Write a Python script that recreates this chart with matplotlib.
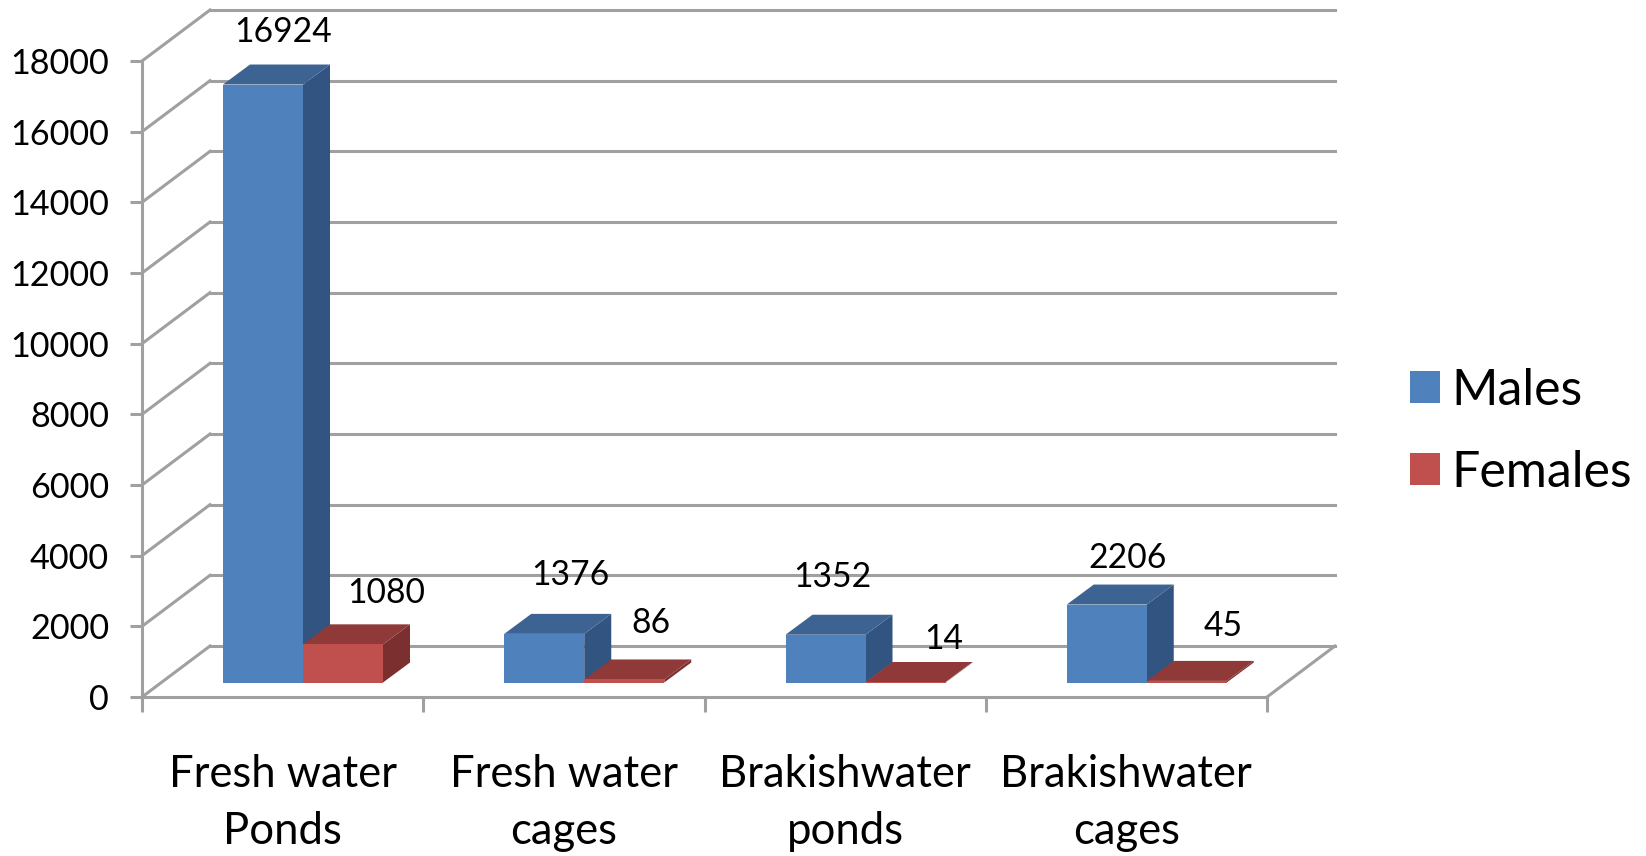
import matplotlib
matplotlib.use("Agg")
import matplotlib.pyplot as plt
from matplotlib.patches import Polygon, Patch

plt.rcParams['font.family'] = ['Lato', 'DejaVu Sans']

# data
categories = ['Fresh water\nPonds', 'Fresh water\ncages', 'Brakishwater\nponds', 'Brakishwater\ncages']
males = [16924, 1376, 1352, 2206]
females = [1080, 86, 14, 45]
y_ticks = [0, 2000, 4000, 6000, 8000, 10000, 12000, 14000, 16000, 18000]

# label offsets from the bar's top centre, in pixels (moved by hand in the original)
male_offs = [(20, 53), (26, 59), (7, 58), (21, 47)]
female_offs = [(43, 51), (27, 56), (38, 43), (36, 55)]

W, H = 1646, 856
PX = 72.0 / 100
GREY = '#a0a0a0'
LW = 2.2

fig = plt.figure(figsize=(W / 100, H / 100), dpi=100, facecolor='white')
ax = fig.add_axes([142 / W, 1 - 697 / H, (1267 - 142) / W, (697 - 61) / H])
ax.set_xlim(0, 4)
ax.set_ylim(0, 18000)

px_x = 4 / (1267 - 142)     # category units per pixel
px_y = 18000 / (697 - 61)   # value units per pixel

# depth of the walls and of the bars
wall_dx = 68 * px_x;  wall_dy = 51 * px_y
bar_dx = 27 * px_x;   bar_dy = 20 * px_y
base_y = 14.5 * px_y
bar_w = 80 * px_x
gap = 81 * px_x

# walls
for v in y_ticks:
    ax.plot([0, wall_dx], [v, v + wall_dy], color=GREY, lw=LW, clip_on=False, zorder=1)
    ax.plot([wall_dx, 4 + wall_dx], [v + wall_dy, v + wall_dy], color=GREY, lw=LW, clip_on=False, zorder=1)
ax.plot([4, 4 + wall_dx], [0, wall_dy], color=GREY, lw=LW, clip_on=False, zorder=1)


def bar3d(x, val, front, side, top):
    y0 = base_y
    y1 = base_y + val
    ax.add_patch(Polygon([(x + bar_w, y0), (x + bar_w + bar_dx, y0 + bar_dy),
                          (x + bar_w + bar_dx, y1 + bar_dy), (x + bar_w, y1)],
                         fc=side, ec='none', clip_on=False, zorder=3))
    ax.add_patch(Polygon([(x, y1), (x + bar_w, y1), (x + bar_w + bar_dx, y1 + bar_dy),
                          (x + bar_dx, y1 + bar_dy)],
                         fc=top, ec='none', clip_on=False, zorder=3))
    ax.add_patch(Polygon([(x, y0), (x + bar_w, y0), (x + bar_w, y1), (x, y1)],
                         fc=front, ec='none', clip_on=False, zorder=3))


for i in range(len(categories)):
    x = i + gap
    # blue first, the red box stands in front of its side face
    bar3d(x, males[i], '#4f81bd', '#325480', '#3d6392')
    bar3d(x + bar_w, females[i], '#c0504d', '#7b302f', '#8f3a38')
    ax.annotate(str(males[i]), (x + bar_w / 2, base_y + males[i]), xytext=(male_offs[i][0] * PX, male_offs[i][1] * PX),
                textcoords='offset points', ha='center', va='center', fontsize=24.2, color='black', zorder=5)
    ax.annotate(str(females[i]), (x + 1.5 * bar_w, base_y + females[i]), xytext=(female_offs[i][0] * PX, female_offs[i][1] * PX),
                textcoords='offset points', ha='center', va='center', fontsize=24.2, color='black', zorder=5)

# axes
for s in ['top', 'right']:
    ax.spines[s].set_visible(False)
for s in ['left', 'bottom']:
    ax.spines[s].set_color(GREY)
    ax.spines[s].set_linewidth(LW)
ax.patch.set_alpha(0)

ax.set_yticks(y_ticks)
ax.tick_params(axis='y', length=12 * PX, width=LW, color=GREY, labelsize=24.6, pad=21 * PX)
ax.set_xticks(range(5))
ax.set_xticklabels([])
ax.tick_params(axis='x', which='major', length=15 * PX, width=LW, color=GREY)
ax.set_xticks([i + 0.5 for i in range(4)], minor=True)
ax.set_xticklabels(categories, minor=True, fontsize=31.4, linespacing=1.5)
ax.tick_params(axis='x', which='minor', length=0, pad=57 * PX)

handles = [Patch(fc='#4f81bd', ec='none', label='Males'), Patch(fc='#c0504d', ec='none', label='Females')]
ax.legend(handles=handles, loc='center left', bbox_to_anchor=(1268 / 1125, 0.417), frameon=False,
          fontsize=36, handlelength=0.6, handleheight=0.6, handletextpad=0.23, labelspacing=0.72,
          borderpad=0, borderaxespad=0)

fig.savefig('out.png', dpi=100)
